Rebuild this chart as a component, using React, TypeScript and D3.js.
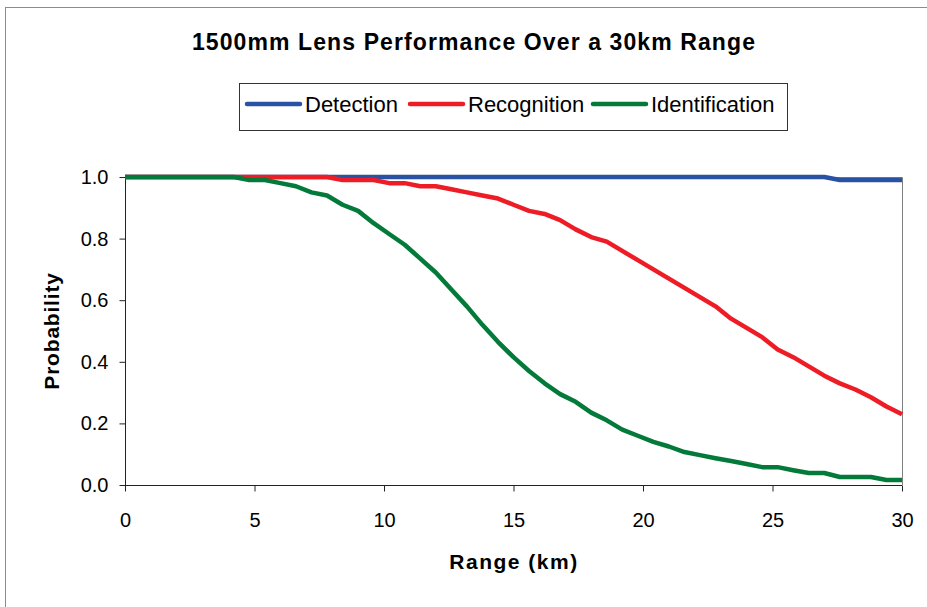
import React, { useEffect, useRef } from "react";
import * as d3 from "d3";

// Range samples (km), shared by every series
const ranges = [
  0, 0.6, 1.2, 1.8, 2.4, 3.0, 3.6, 4.2, 4.8, 5.4, 6.0, 6.6, 7.2, 7.8, 8.4, 9.0, 9.6,
  10.2, 10.8, 11.4, 12.0, 12.6, 13.2, 13.8, 14.4, 15.0, 15.6, 16.2, 16.8, 17.4, 18.0,
  18.6, 19.2, 19.8, 20.4, 21.0, 21.6, 22.2, 22.8, 23.4, 24.0, 24.6, 25.2, 25.8, 26.4,
  27.0, 27.6, 28.2, 28.8, 29.4, 30.0,
];

const detection = [
  1, 1, 1, 1, 1, 1, 1, 1, 1, 1, 1, 1, 1, 1, 1, 1, 1,
  1, 1, 1, 1, 1, 1, 1, 1, 1, 1, 1, 1, 1, 1,
  1, 1, 1, 1, 1, 1, 1, 1, 1, 1, 1, 1, 1, 1,
  1, 0.99, 0.99, 0.99, 0.99, 0.99,
];

const recognition = [
  1, 1, 1, 1, 1, 1, 1, 1, 1, 1, 1, 1, 1, 1, 0.99, 0.99, 0.99,
  0.98, 0.98, 0.97, 0.97, 0.96, 0.95, 0.94, 0.93, 0.91, 0.89, 0.88, 0.86, 0.83, 0.805,
  0.79, 0.76, 0.73, 0.7, 0.67, 0.64, 0.61, 0.58, 0.54, 0.51, 0.48, 0.44, 0.415, 0.385,
  0.355, 0.33, 0.31, 0.285, 0.255, 0.23,
];

const identification = [
  1, 1, 1, 1, 1, 1, 1, 1, 0.99, 0.99, 0.98, 0.97, 0.95, 0.94, 0.91, 0.89, 0.85,
  0.815, 0.78, 0.735, 0.69, 0.635, 0.58, 0.52, 0.465, 0.415, 0.37, 0.33, 0.295, 0.27, 0.235,
  0.21, 0.18, 0.16, 0.14, 0.125, 0.107, 0.097, 0.087, 0.078, 0.068, 0.058, 0.058, 0.048, 0.039,
  0.039, 0.026, 0.026, 0.026, 0.016, 0.016,
];

const seriesNames = ["Detection", "Recognition", "Identification"];
const seriesColors = ["#2a52a4", "#ee1d25", "#047a3a"];
const xTicks = [0, 5, 10, 15, 20, 25, 30];
const yTicks = [0, 0.2, 0.4, 0.6, 0.8, 1.0];

export default function App() {
  const svgRef = useRef<SVGSVGElement>(null);

  useEffect(() => {
    if (!svgRef.current) return;
    const width = 927;
    const height = 607;
    const margin = { top: 177, right: 25, bottom: 122, left: 125 };
    const font = "'Liberation Sans', Arial, sans-serif";

    const svg = d3.select(svgRef.current);
    svg.selectAll("*").remove();

    // outer chart frame
    svg.append("rect")
      .attr("x", 5.5).attr("y", 7.5)
      .attr("width", width + 10).attr("height", height + 10)
      .attr("fill", "white")
      .attr("stroke", "#8c8c8c");

    const x = d3.scaleLinear().domain([0, 30]).range([margin.left, width - margin.right]);
    const y = d3.scaleLinear().domain([0, 1]).range([height - margin.bottom, margin.top]);

    // plot area border (top & right)
    svg.append("path")
      .attr("d", `M${x(0)},${y(1) + 0.5}H${x(30) + 0.5}V${y(0)}`)
      .attr("fill", "none")
      .attr("stroke", "#808080");

    // y axis
    const yAxis = svg.append("g")
      .attr("transform", `translate(${x(0) + 0.5},0)`)
      .call(d3.axisLeft(y).tickValues(yTicks).tickSize(6).tickPadding(11).tickFormat(d3.format(".1f")));
    yAxis.selectAll("path, line").attr("stroke", "#222");
    yAxis.select(".domain").attr("d", `M0,${y(0)}V${y(1)}`);
    yAxis.selectAll("text")
      .attr("font-family", font).attr("font-size", 20).attr("fill", "#000");

    // x axis
    const xAxis = svg.append("g")
      .attr("transform", `translate(0,${y(0) + 0.5})`)
      .call(d3.axisBottom(x).tickValues(xTicks).tickSize(6).tickPadding(21));
    xAxis.selectAll("path, line").attr("stroke", "#222");
    xAxis.select(".domain").attr("d", `M${x(0)},0H${x(30)}`);
    xAxis.selectAll("text")
      .attr("font-family", font).attr("font-size", 20).attr("fill", "#000");

    // lines
    const allSeries = [detection, recognition, identification];
    const line = d3.line<number>()
      .x((_, i) => x(ranges[i]))
      .y(d => y(d));
    allSeries.forEach((vals, i) => {
      svg.append("path")
        .datum(vals)
        .attr("fill", "none")
        .attr("stroke", seriesColors[i])
        .attr("stroke-width", 4.5)
        .attr("stroke-linejoin", "round")
        .attr("d", line);
    });

    // title
    svg.append("text")
      .attr("x", 474).attr("y", 50)
      .attr("text-anchor", "middle")
      .attr("font-family", font).attr("font-weight", "bold").attr("font-size", 23)
      .attr("letter-spacing", 1.1)
      .text("1500mm Lens Performance Over a 30km Range");

    // legend
    const lg = svg.append("g");
    lg.append("rect")
      .attr("x", 239.5).attr("y", 83.5).attr("width", 548).attr("height", 47)
      .attr("fill", "white").attr("stroke", "#333");
    const legendX = [247, 410, 593];
    seriesNames.forEach((name, i) => {
      lg.append("line")
        .attr("x1", legendX[i]).attr("x2", legendX[i] + 53)
        .attr("y1", 104).attr("y2", 104)
        .attr("stroke", seriesColors[i]).attr("stroke-width", 4.5).attr("stroke-linecap", "round");
      lg.append("text")
        .attr("x", legendX[i] + 58).attr("y", 112)
        .attr("font-family", font).attr("font-size", 22)
        .text(name);
    });

    // axis titles
    svg.append("text")
      .attr("transform", `translate(59,${y(0.5)}) rotate(-90)`)
      .attr("text-anchor", "middle")
      .attr("font-family", font).attr("font-weight", "bold").attr("font-size", 21)
      .attr("letter-spacing", 0.8)
      .text("Probability");

    svg.append("text")
      .attr("x", 514).attr("y", 569)
      .attr("text-anchor", "middle")
      .attr("font-family", font).attr("font-weight", "bold").attr("font-size", 21)
      .attr("letter-spacing", 1.5)
      .text("Range (km)");
  }, []);

  return (
    <svg
      ref={svgRef}
      width={927}
      height={607}
      style={{ position: "absolute", left: 0, top: 0, display: "block", background: "white" }}
    />
  );
}
